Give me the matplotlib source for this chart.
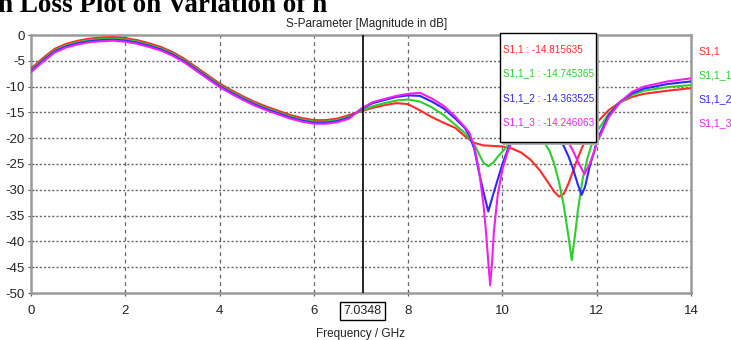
import matplotlib
matplotlib.use("Agg")
import matplotlib.pyplot as plt
from matplotlib.patches import Rectangle

# --- data (frequency in GHz, magnitude in dB) ---
f_low = [0.0, 0.25, 0.5, 0.75, 1.0, 1.25, 1.5, 1.75, 2.0, 2.25, 2.5, 2.75, 3.0,
         3.25, 3.5, 3.75, 4.0, 4.25, 4.5, 4.75, 5.0, 5.25, 5.5, 5.75, 6.0, 6.25,
         6.5, 6.75]
s_low = [-6.8, -4.8, -3.0, -2.0, -1.4, -1.0, -0.8, -0.7, -0.9, -1.3, -1.9, -2.6,
         -3.6, -4.9, -6.5, -8.1, -9.7, -11.0, -12.2, -13.3, -14.2, -15.0, -15.8,
         -16.4, -16.8, -16.8, -16.5, -15.8]

f_s11 = [7.0, 7.25, 7.5, 7.75, 8.0, 8.25, 8.5, 8.75, 9.0, 9.2, 9.4, 9.6, 9.8, 10.0,
         10.2, 10.4, 10.6, 10.8, 11.0, 11.1, 11.2, 11.3, 11.4, 11.5, 11.6, 11.7,
         11.8, 11.9, 12.0, 12.25, 12.5, 12.75, 13.0, 13.5, 14.0]
s_s11 = [-14.8, -14.1, -13.6, -13.2, -13.4, -14.6, -15.9, -17.0, -18.0, -19.6,
         -20.9, -21.4, -21.5, -21.6, -22.0, -22.8, -24.2, -26.3, -29.0, -30.4,
         -31.3, -30.8, -28.8, -26.3, -23.8, -21.6, -19.7, -18.2, -17.0, -14.6,
         -13.0, -12.0, -11.4, -10.8, -10.3]

f_s11_1 = [7.0, 7.25, 7.5, 7.75, 8.0, 8.25, 8.5, 8.75, 9.0, 9.2, 9.4, 9.5, 9.6,
           9.7, 9.8, 9.9, 10.0, 10.1, 10.2, 10.4, 10.6, 10.8, 10.9, 11.0, 11.1,
           11.2, 11.3, 11.4, 11.47, 11.55, 11.6, 11.7, 11.8, 11.9, 12.0, 12.25,
           12.5, 12.75, 13.0, 13.5, 14.0]
s_s11_1 = [-14.7, -13.8, -13.2, -12.7, -12.5, -12.9, -14.0, -15.5, -17.4, -19.0,
           -21.2, -23.0, -24.8, -25.4, -24.8, -23.6, -22.6, -21.6, -20.8, -19.8,
           -19.6, -20.2, -21.0, -22.5, -25.0, -28.5, -33.0, -39.0, -43.6, -38.0,
           -34.0, -28.0, -24.0, -21.0, -18.8, -15.3, -13.0, -11.6, -10.8, -10.1,
           -9.7]

f_s11_2 = [7.0, 7.25, 7.5, 7.75, 8.0, 8.25, 8.5, 8.75, 9.0, 9.2, 9.3, 9.4, 9.5,
           9.6, 9.7, 9.8, 9.9, 10.0, 10.1, 10.2, 10.4, 10.6, 10.8, 11.0, 11.2,
           11.3, 11.4, 11.5, 11.6, 11.68, 11.75, 11.85, 11.95, 12.0, 12.25, 12.5,
           12.75, 13.0, 13.5, 14.0]
s_s11_2 = [-14.4, -13.2, -12.6, -12.0, -11.7, -11.8, -12.9, -14.2, -16.2, -18.0,
           -19.5, -22.0, -26.5, -30.5, -34.2, -31.0, -28.0, -25.0, -22.5, -20.5,
           -18.0, -17.0, -17.2, -18.3, -20.0, -21.5, -23.5, -26.0, -29.0, -31.0,
           -29.5, -25.5, -22.5, -20.5, -15.6, -12.9, -11.3, -10.4, -9.5, -9.0]

f_s11_3 = [7.0, 7.25, 7.5, 7.75, 8.0, 8.25, 8.5, 8.75, 9.0, 9.2, 9.3, 9.4, 9.5,
           9.6, 9.65, 9.7, 9.74, 9.78, 9.82, 9.9, 10.0, 10.1, 10.2, 10.4, 10.6,
           10.8, 11.0, 11.2, 11.4, 11.5, 11.6, 11.74, 11.85, 11.95, 12.0, 12.25,
           12.5, 12.75, 13.0, 13.5, 14.0]
s_s11_3 = [-14.3, -13.0, -12.4, -11.8, -11.4, -11.2, -12.3, -13.7, -15.8, -17.8,
           -19.0, -21.5, -26.0, -33.0, -38.0, -44.0, -48.5, -44.0, -38.0, -31.0,
           -26.0, -23.0, -20.5, -17.8, -16.5, -16.5, -17.3, -18.8, -20.8, -22.5,
           -24.5, -27.0, -25.0, -22.5, -21.0, -16.0, -13.0, -11.0, -10.0, -9.0,
           -8.4]

# small spread of the four traces in the low band
low_offset = [0.3, 0.0, -0.2, -0.4]

names = ["S1,1", "S1,1_1", "S1,1_2", "S1,1_3"]
marker_vals = ["-14.815635", "-14.745365", "-14.363525", "-14.246063"]
marker_f = 7.0348
colors = ["#ff2a2a", "#2ecc2e", "#2a2aff", "#f020f0"]

freqs = [f_s11, f_s11_1, f_s11_2, f_s11_3]
mags = [s_s11, s_s11_1, s_s11_2, s_s11_3]

plt.rcParams["font.family"] = "Liberation Sans"
plt.rcParams["axes.unicode_minus"] = False

fig = plt.figure(figsize=(7.31, 3.40), dpi=100)
ax = fig.add_axes([31 / 731, 47 / 340, 660 / 731, 258 / 340])

for i in range(4):
    x = f_low + freqs[i]
    y = [v + low_offset[i] for v in s_low] + mags[i]
    ax.plot(x, y, color=colors[i], lw=1.5, zorder=3 + i)

ax.axvline(marker_f, color="black", lw=1.2, zorder=8)

ax.set_xlim(0, 14)
ax.set_ylim(-50, 0)
ax.set_xticks(range(0, 15, 2))
ax.set_yticks(range(-50, 1, 5))
ax.tick_params(direction="inout", length=5, width=0.8, color="#555555", pad=2,
               labelsize=9.5, labelcolor="#222222")
ax.tick_params(axis="x", pad=6)
for sp in ax.spines.values():
    sp.set_color("#9a9a9a")
    sp.set_linewidth(1.8)

for yv in range(-45, 0, 5):
    ax.axhline(yv, color="#666666", lw=1.0, ls=(0, (1.5, 1.5)), zorder=1)
for xv in range(2, 14, 2):
    ax.axvline(xv, color="#666666", lw=0.9, ls=(0, (3, 3)), zorder=1)

# marker value box
bx, by, bw, bh = 0.7106, 0.586, 0.1455, 0.422
ax.add_patch(Rectangle((bx + 0.004, by - 0.012), bw, bh, transform=ax.transAxes,
                       facecolor="#b0b0b0", edgecolor="none", clip_on=False, zorder=9))
ax.add_patch(Rectangle((bx, by), bw, bh, transform=ax.transAxes, facecolor="white",
                       edgecolor="black", lw=1.0, clip_on=False, zorder=10))
for i, yy in enumerate([0.942, 0.853, 0.756, 0.663]):
    ax.text(bx + 0.004, yy, f"{names[i]} : {marker_vals[i]}", color=colors[i],
            fontsize=7.2, transform=ax.transAxes, va="center", zorder=11)

# marker frequency label
ax.text(marker_f, -0.07, "7.0348", transform=ax.get_xaxis_transform(),
        ha="center", va="center", fontsize=9, zorder=11, color="#222222",
        bbox=dict(boxstyle="square,pad=0.25", fc="white", ec="black", lw=1.0))

# legend at the right
for i, yp in enumerate([52, 75, 99, 123]):
    fig.text(698 / 731, 1 - yp / 340, names[i], color=colors[i], fontsize=7.6,
             va="center", ha="left")

fig.text(367 / 731, 1 - 24 / 340, "S-Parameter [Magnitude in dB]", ha="center",
         va="center", fontsize=8.5, color="#222222")
fig.text(361 / 731, 1 - 328 / 340, "Frequency / GHz", ha="center", va="top",
         fontsize=8.5, color="#222222")
fig.text(-2 / 731, 1 - 12.5 / 340, "n Loss Plot on Variation of n",
         family="Liberation Serif", fontweight="bold", fontsize=19.5,
         ha="left", va="baseline")

fig.savefig("out.png", dpi=100)
